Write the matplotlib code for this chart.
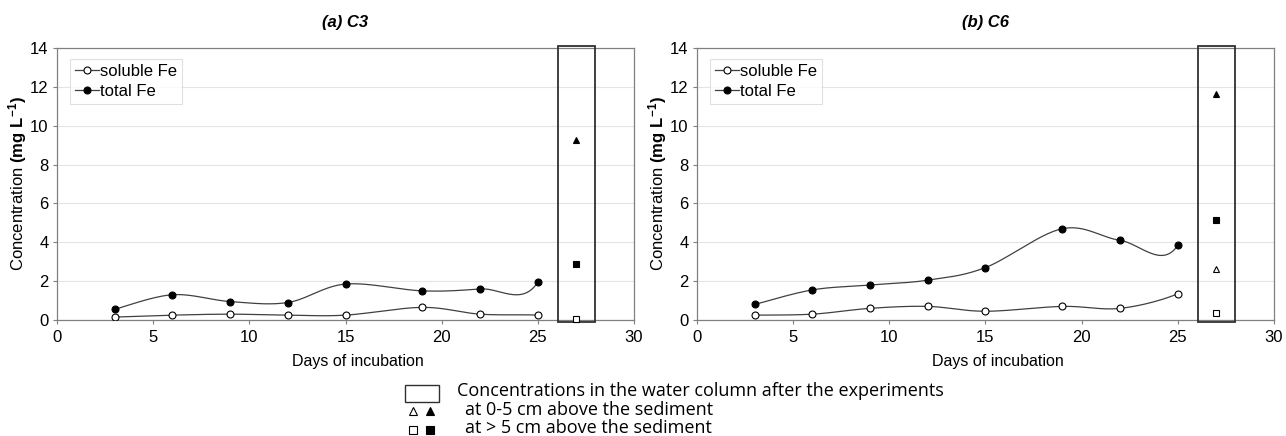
import numpy as np
import matplotlib
matplotlib.use('Agg')
import matplotlib.pyplot as plt
from matplotlib.patches import Rectangle

plt.rcParams['font.family'] = ['Liberation Sans', 'DejaVu Sans']
plt.rcParams['mathtext.fontset'] = 'custom'
plt.rcParams['mathtext.rm'] = 'Liberation Sans'
plt.rcParams['mathtext.bf'] = 'Liberation Sans:bold'

# data
days = [3, 6, 9, 12, 15, 19, 22, 25]
sol_c3 = [0.15, 0.25, 0.3, 0.25, 0.25, 0.65, 0.3, 0.25]
tot_c3 = [0.55, 1.3, 0.95, 0.9, 1.85, 1.5, 1.6, 1.95]
sol_c6 = [0.25, 0.3, 0.6, 0.7, 0.45, 0.7, 0.6, 1.35]
tot_c6 = [0.8, 1.55, 1.8, 2.05, 2.7, 4.7, 4.1, 3.85]
water_day = 27
# after experiment: [0-5 cm soluble, 0-5 cm total, >5 cm soluble, >5 cm total]
water_c3 = [0.05, 9.25, 0.05, 2.9]
water_c6 = [2.65, 11.65, 0.35, 5.15]
titles = ['(a) C3', '(b) C6']


def smooth(x, y, nxt, n=30):
    # Excel-like smoothed line; the day-27 value only steers the last tangent
    x = np.asarray(x, float)
    y = np.asarray(y, float)
    px = np.concatenate([[x[0]], x, [nxt[0]]])
    py = np.concatenate([[y[0]], y, [nxt[1]]])
    xs, ys = [], []
    for i in range(1, len(px) - 2):
        t = np.linspace(0, 1, n)
        bx = [px[i], px[i] + (px[i + 1] - px[i - 1]) / 6, px[i + 1] - (px[i + 2] - px[i]) / 6, px[i + 1]]
        by = [py[i], py[i] + (py[i + 1] - py[i - 1]) / 6, py[i + 1] - (py[i + 2] - py[i]) / 6, py[i + 1]]
        c = [(1 - t) ** 3, 3 * (1 - t) ** 2 * t, 3 * (1 - t) * t ** 2, t ** 3]
        xs.append(sum(c[k] * bx[k] for k in range(4)))
        ys.append(sum(c[k] * by[k] for k in range(4)))
    return np.concatenate(xs), np.concatenate(ys)


fig = plt.figure(figsize=(12.86, 4.36), dpi=100)
positions = [[57 / 1286, 116 / 436, 577 / 1286, 272 / 436],
             [697 / 1286, 116 / 436, 577 / 1286, 272 / 436]]
series = [(sol_c3, tot_c3, water_c3), (sol_c6, tot_c6, water_c6)]

for pos, (sol, tot, water), title in zip(positions, series, titles):
    ax = fig.add_axes(pos)
    ax.set_xlim(0, 30)
    ax.set_ylim(0, 14)
    ax.set_xticks(range(0, 31, 5))
    ax.set_yticks(range(0, 15, 2))
    ax.grid(axis='y', color='#e4e4e4', lw=0.8)
    ax.set_axisbelow(True)
    for s in ax.spines.values():
        s.set_color('#808080')
        s.set_linewidth(0.9)
    ax.tick_params(labelsize=12, length=3, color='#808080', pad=3)
    ax.tick_params(axis='x', pad=4)

    for vals, nxt, face, lab in [(sol, water[0], 'white', 'soluble Fe'),
                                 (tot, water[1], 'black', 'total Fe')]:
        sx, sy = smooth(days, vals, (water_day, nxt))
        ax.plot(sx, sy, color='#404040', lw=0.9, zorder=2)
        ax.plot(days, vals, 'o', mfc=face, mec='black', ms=5, mew=0.8, zorder=3)
        ax.plot([], [], color='#404040', lw=0.9, marker='o', mfc=face, mec='black',
                ms=5, mew=0.8, label=lab)

    ax.add_patch(Rectangle((26.05, -0.1), 1.9, 14.2, fill=False, ec='#303030', lw=1.3,
                           clip_on=False, zorder=4))
    ax.plot(water_day, water[0], '^', mfc='white', mec='black', ms=5, mew=0.8, clip_on=False, zorder=5)
    ax.plot(water_day, water[1], '^', mfc='black', mec='black', ms=5, mew=0.8, clip_on=False, zorder=5)
    ax.plot(water_day, water[2], 's', mfc='white', mec='black', ms=5, mew=0.8, clip_on=False, zorder=5)
    ax.plot(water_day, water[3], 's', mfc='black', mec='black', ms=5, mew=0.8, clip_on=False, zorder=5)

    leg = ax.legend(loc='upper left', bbox_to_anchor=(0.023, 0.96), fontsize=12, frameon=True,
                    fancybox=False, handlelength=1.4, handletextpad=0.1, borderpad=0.3,
                    labelspacing=0.3, borderaxespad=0)
    leg.get_frame().set_edgecolor('#d8d8d8')
    leg.get_frame().set_linewidth(0.8)

    ax.set_title(title, fontsize=12, fontweight='bold', style='italic', pad=15)
    ax.set_xlabel('Days of incubation', fontsize=11.5)
    ax.xaxis.set_label_coords(0.521, -0.125)
    ax.set_ylabel(r'Concentration $\mathbf{(mg\ L^{-1})}$', fontsize=12, labelpad=1)

# shared key at the bottom
key = fig.add_axes([0, 0, 1, 1])
key.set_xlim(0, 1286)
key.set_ylim(436, 0)
key.axis('off')
key.add_patch(Rectangle((405, 385), 34, 17, fill=False, ec='#303030', lw=1))
key.plot([413], [411], '^', mfc='white', mec='black', ms=6, mew=0.8)
key.plot([430], [411], '^', mfc='black', mec='black', ms=6, mew=0.8)
key.plot([413], [430], 's', mfc='white', mec='black', ms=6, mew=0.8)
key.plot([430], [430], 's', mfc='black', mec='black', ms=6, mew=0.8)
kfont = dict(fontsize=13, va='center', family=['Open Sans', 'Liberation Sans'])
key.text(457, 391, 'Concentrations in the water column after the experiments', **kfont)
key.text(465, 410, 'at 0-5 cm above the sediment', **kfont)
key.text(465, 428, 'at > 5 cm above the sediment', **kfont)

plt.savefig('out.png', dpi=100)
